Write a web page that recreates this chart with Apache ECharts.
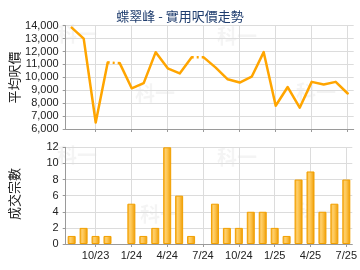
<!DOCTYPE html>
<html><head><meta charset="utf-8">
<script src="https://cdn.jsdelivr.net/npm/echarts@6/dist/echarts.min.js"></script>
<style>html,body{margin:0;padding:0;background:#fff}#c{width:360px;height:270px}</style>
</head><body><div id="c"></div>
<script>
const chartTitle = '蝶翠峰 - 實用呎價走勢';
const priceAxisName = '平均呎價';
const countAxisName = '成交宗數';
const months = ['8/23','9/23','10/23','11/23','12/23','1/24','2/24','3/24','4/24','5/24','6/24','7/24','8/24','9/24','10/24','11/24','12/24','1/25','2/25','3/25','4/25','5/25','6/25','7/25'];
const priceValues = [13850,13000,6500,11150,11100,9150,9550,11950,10700,10300,11550,11550,10750,9850,9600,10050,11950,7800,9250,7650,9650,9450,9650,8750];
const dealCounts = [1,2,1,1,0,5,1,2,12,6,1,0,5,2,2,4,4,2,1,8,9,4,5,8];
const dottedSegmentStarts = [3,10];
const priceMin = 6000, priceMax = 14000, priceStep = 1000;
const countMin = 0, countMax = 12, countStep = 2;

const FONT = 'Liberation Sans, Arial, sans-serif';
const CJK = 'Noto Sans CJK TC, sans-serif';
const LINE = '#ffa500';
const GRID = '#dcdcdc';
const AXIS = '#9a9a9a';

// Build solid runs (broken at dotted segments) and a dotted series
const solidSeries = [];
let start = 0;
const breaks = dottedSegmentStarts.concat([months.length - 1]);
breaks.forEach(b => {
  const d = priceValues.map((v, i) => (i >= start && i <= b) ? v : null);
  solidSeries.push(d);
  start = b + 1;
});
const dottedData = priceValues.map((v, i) =>
  dottedSegmentStarts.some(s => i === s || i === s + 1) ? v : null);

const labelEvery3 = (i) => i % 3 === 2;

const barGradient = new echarts.graphic.LinearGradient(0, 0, 1, 0, [
  {offset: 0, color: '#f2a20c'},
  {offset: 0.3, color: '#ffd06e'},
  {offset: 0.55, color: '#fcc24a'},
  {offset: 1, color: '#ec9800'}
]);

const barData = dealCounts.map(v => ({
  value: v,
  itemStyle: v === 0 ? {borderWidth: 0} : {}
}));

const xCommon = {
  type: 'category',
  data: months,
  boundaryGap: true,
  axisLine: {show: true, lineStyle: {color: AXIS, width: 1}},
  axisTick: {show: true, alignWithLabel: true, interval: labelEvery3, length: 3, lineStyle: {color: AXIS}},
  splitLine: {show: true, alignWithLabel: true, interval: labelEvery3, lineStyle: {color: GRID, width: 1}}
};

const yCommon = {
  type: 'value',
  axisLine: {show: true, lineStyle: {color: AXIS, width: 1}},
  axisTick: {show: true, length: 3, lineStyle: {color: AXIS}},
  splitLine: {show: true, lineStyle: {color: GRID, width: 1}},
  axisLabel: {color: '#222', fontFamily: FONT, fontSize: 11, margin: 7}
};

const watermarks = [
  [77, 34], [155, 93], [237, 36], [316, 92],
  [77, 155], [160, 214], [237, 157], [316, 212]
].map(p => ({
  type: 'text', x: p[0], y: p[1], z: -10,
  style: {text: '科一', fill: 'rgba(0,0,0,0.045)', font: 'bold 20px ' + CJK, textAlign: 'center', textVerticalAlign: 'middle'}
}));

const option = {
  animation: false,
  backgroundColor: '#fff',
  title: {
    text: chartTitle, left: 'center', top: 5,
    textStyle: {color: '#1f3d6e', fontFamily: CJK, fontSize: 13, fontWeight: 'normal'}
  },
  grid: [
    {left: 65.7, top: 25.7, width: 288, height: 103.3},
    {left: 65.7, top: 147.3, width: 288, height: 96.7}
  ],
  xAxis: [
    Object.assign({}, xCommon, {gridIndex: 0, axisLabel: {show: false}}),
    Object.assign({}, xCommon, {gridIndex: 1, axisLabel: {show: true, interval: labelEvery3, color: '#222', fontFamily: FONT, fontSize: 11, margin: 6}})
  ],
  yAxis: [
    Object.assign({}, yCommon, {gridIndex: 0, min: priceMin, max: priceMax, interval: priceStep}),
    Object.assign({}, yCommon, {gridIndex: 1, min: countMin, max: countMax, interval: countStep})
  ],
  graphic: watermarks.concat([
    {type: 'text', x: 14, y: 77.5, rotation: Math.PI / 2,
      style: {text: priceAxisName, fill: '#222', font: '13px ' + CJK, textAlign: 'center', textVerticalAlign: 'middle'}},
    {type: 'text', x: 14, y: 194, rotation: Math.PI / 2,
      style: {text: countAxisName, fill: '#222', font: '13px ' + CJK, textAlign: 'center', textVerticalAlign: 'middle'}}
  ]),
  series: solidSeries.map(d => ({
    type: 'line', xAxisIndex: 0, yAxisIndex: 0, data: d,
    showSymbol: false, symbol: 'none', connectNulls: false,
    lineStyle: {color: LINE, width: 2.5, cap: 'round', join: 'round'}
  })).concat([
    {type: 'line', xAxisIndex: 0, yAxisIndex: 0, data: dottedData,
      showSymbol: false, symbol: 'none', connectNulls: false,
      lineStyle: {color: LINE, width: 2.5, type: [2, 3]}},
    {type: 'bar', xAxisIndex: 1, yAxisIndex: 1, data: barData, barWidth: 8,
      itemStyle: {color: barGradient, borderColor: '#f2a000', borderWidth: 1}}
  ])
};

const chart = echarts.init(document.getElementById('c'), null, {renderer: 'canvas'});
chart.setOption(option);
</script>
</body></html>
